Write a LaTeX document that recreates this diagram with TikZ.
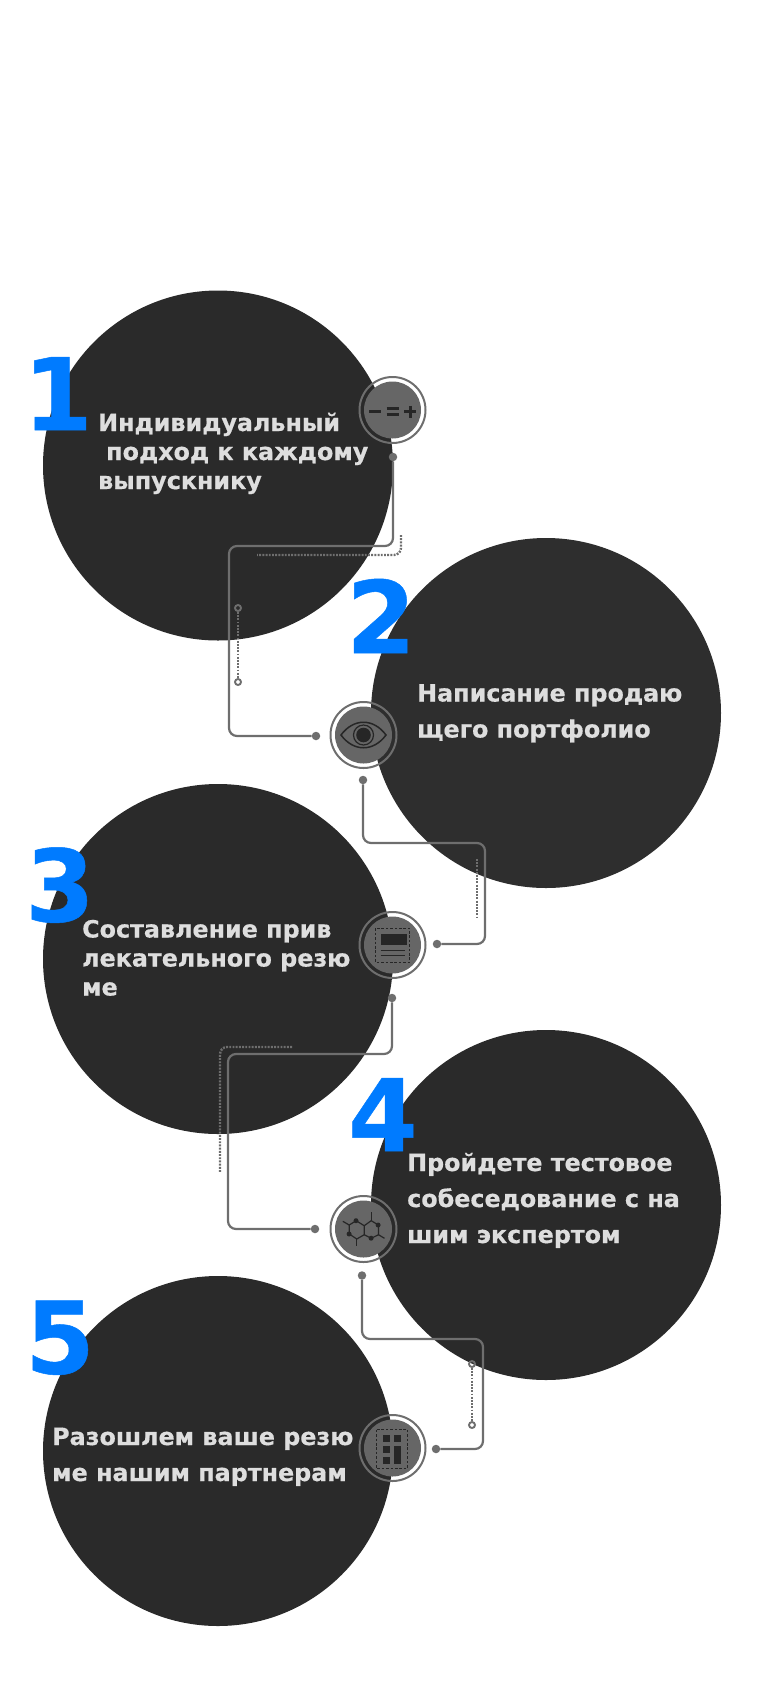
\documentclass[tikz,border=0pt]{standalone}
\usepackage{fontspec}
\setmainfont{DejaVu Sans}[BoldFeatures={FakeBold=0.5}]
\definecolor{discdark}{HTML}{2A2A2A}
\definecolor{disclight}{HTML}{2E2E2E}
\definecolor{wiregray}{HTML}{6E6E6E}
\definecolor{badgegray}{HTML}{666666}
\definecolor{iconink}{HTML}{262626}
\definecolor{numblue}{HTML}{007BFF}
\definecolor{labelgray}{HTML}{DEDEDE}
\tikzset{
    disc/.style={circle, fill=discdark, minimum size=350pt, inner sep=0pt},
    badge/.style={circle, fill=badgegray, minimum size=57pt, inner sep=0pt},
    wire/.style={wiregray, line width=2.2pt, rounded corners=8pt},
    dotline/.style={wiregray, line width=2.4pt, dash pattern=on 1.9pt off 1.3pt},
    pin/.style={circle, fill=wiregray, minimum size=8.5pt, inner sep=0pt},
    ringpin/.style={circle, draw=wiregray, line width=1.9pt, minimum size=6pt, inner sep=0pt},
    numeral/.style={inner sep=0pt, anchor=base, text=numblue, font=\bfseries\fontsize{100}{100}\selectfont},
    caption/.style={inner sep=0pt, anchor=base west, text=labelgray, font=\bfseries\fontsize{23.8}{24}\selectfont},
    icon/.style={iconink, line width=1.2pt},
    iconbar/.style={iconink, line width=3pt},
    icondash/.style={iconink, line width=1pt, dash pattern=on 2.6pt off 1.8pt}
}
\begin{document}
\begin{tikzpicture}[x=1pt, y=-1pt]
    \useasboundingbox (0,0) rectangle (777,1701);

    \foreach \n/\cx/\cy in {a/218/465.5, c/218/959, d/546/1205, e/218/1451} {
        \node[disc] (disc\n) at (\cx, \cy) {};
    }
    \node[disc, fill=disclight] (discb) at (546, 713) {};

    % badges
    \foreach \n/\cx/\cy in {a/392.5/410, b/363.5/735, c/392.5/945, d/363.5/1229, e/392.5/1448} {
        \node[badge] (badge\n) at (\cx, \cy) {};
        \draw[wiregray, line width=2pt] (\cx, \cy) circle (33);
    }

    % pins
    \foreach \n/\cx/\cy in {aa/393/457, ab/316/736, ba/363/780, bb/437/944, ca/392/998, cb/315/1229, da/362/1275.5, db/436/1449} {
        \node[pin] (pin\n) at (\cx, \cy) {};
    }
    \foreach \n/\cx/\cy in {ra/238/608, rb/238/682, rc/472/1364, rd/472/1425} {
        \node[ringpin] (\n) at (\cx, \cy) {};
    }

    % connectors
    \coordinate (ka) at (393, 546);
    \coordinate (kb) at (229, 546);
    \coordinate (kc) at (229, 736);
    \draw[wire] (pinaa) -- (ka) -- (kb) -- (kc) -- (pinab);
    \coordinate (kd) at (363, 843);
    \coordinate (ke) at (485, 843);
    \coordinate (kf) at (485, 944);
    \draw[wire] (pinba) -- (kd) -- (ke) -- (kf) -- (pinbb);
    \coordinate (kg) at (392, 1054);
    \coordinate (kh) at (228, 1054);
    \coordinate (ki) at (228, 1229);
    \draw[wire] (pinca) -- (kg) -- (kh) -- (ki) -- (pincb);
    \coordinate (kj) at (362, 1339);
    \coordinate (kk) at (483, 1339);
    \coordinate (kl) at (483, 1449);
    \draw[wire] (pinda) -- (kj) -- (kk) -- (kl) -- (pindb);

    % dotted lines
    \draw[dotline, rounded corners=7pt] (401, 535) -- (401, 555) -- (257, 555);
    \draw[dotline] (476.7, 859) -- (476.7, 917);
    \draw[dotline, rounded corners=7pt] (292, 1047) -- (220, 1047) -- (220, 1173);
    \draw[dotline] (ra) -- (rb);
    \draw[dotline] (rc) -- (rd);

    % icons
    \begin{scope}[shift={(392.5,410)}]
        \draw[iconbar] (-23.5,1) -- (-11.5,1);
        \draw[iconbar] (-6,-1.3) -- (6,-1.3);
        \draw[iconbar] (-6,4.3) -- (6,4.3);
        \draw[iconbar] (11.5,1.7) -- (23.5,1.7);
        \draw[iconbar] (17.5,-4.3) -- (17.5,7.7);
    \end{scope}
    \begin{scope}[shift={(363.5,735)}]
        \draw[icon, line width=1.5pt] (-22.5,0) .. controls (-10,-17) and (10,-17) .. (22.5,0) .. controls (10,17) and (-10,17) .. (-22.5,0) -- cycle;
        \draw[icon] (0,0) circle (10);
        \fill[iconink] (0,0) circle (7.3);
    \end{scope}
    \begin{scope}[shift={(392.5,945)}]
        \draw[icondash] (-17,-16.7) rectangle (17,17.3);
        \fill[iconink] (-11.8,-11) rectangle (14.8,0);
        \draw[icon] (-11.8,5.7) -- (12,5.7);
        \draw[icon] (-11.8,10.3) -- (12,10.3);
    \end{scope}
    \begin{scope}[shift={(363.5,1229)}]
        \draw[icon] (-7.3,-8.3) -- (0.7,-3.3) -- (0.7,5.7) -- (-6.7,10) -- (-14.3,5) -- (-14.3,-4) -- cycle;
        \draw[icon] (0.7,-3.3) -- (7.7,-8.3) -- (15,-4) -- (15,5.7) -- (7.7,9.3) -- (0.7,5.7);
        \draw[icon] (-14.3,-4) -- (-20.7,-7.7);
        \draw[icon] (-6.7,10) -- (-6.7,16.7);
        \draw[icon] (7.7,-8.3) -- (7.7,-16.7);
        \draw[icon] (15,5.7) -- (21,9.3);
        \foreach \ax/\ay in {-7.5/-8.3, -14.4/5, 7.6/9.2, 14.6/-4} {
            \fill[iconink] (\ax, \ay) circle (2.5);
        }
    \end{scope}
    \begin{scope}[shift={(392.5,1448)}]
        \draw[icondash] (-16.5,-18.3) rectangle (15.2,20);
        \foreach \xa/\ya/\xb/\yb in {-9.8/-13.3/-2.5/-6, 1.5/-13.3/8.8/-6, -9.8/-2.3/-2.5/5, 1.5/-2.3/8.8/16, -9.8/8.7/-2.5/16} {
            \fill[iconink] (\xa, \ya) rectangle (\xb, \yb);
        }
    \end{scope}

    % numerals
    \node[numeral] (numa) at (58, 430) {1};
    \node[numeral] (numb) at (381, 653) {2};
    \node[numeral] (numc) at (60, 921.5) {3};
    \node[numeral] (numd) at (383, 1151) {4};
    \node[numeral] (nume) at (60, 1373.5) {5};

    % captions
    \node[caption] (capaa) at (98, 431) {Индивидуальный};
    \node[caption] (capab) at (106, 460) {подход к каждому};
    \node[caption] (capac) at (98, 489) {выпускнику};
    \node[caption] (capba) at (417, 701.5) {Написание продаю};
    \node[caption] (capbb) at (417, 737.5) {щего портфолио};
    \node[caption] (capca) at (82, 937.5) {Составление прив};
    \node[caption] (capcb) at (82, 966.5) {лекательного резю};
    \node[caption] (capcc) at (82, 995.5) {ме};
    \node[caption] (capda) at (407, 1171) {Пройдете тестовое};
    \node[caption] (capdb) at (407, 1207) {собеседование с на};
    \node[caption] (capdc) at (407, 1243) {шим экспертом};
    \node[caption] (capea) at (52, 1445) {Разошлем ваше резю};
    \node[caption] (capeb) at (52, 1481) {ме нашим партнерам};
\end{tikzpicture}
\end{document}
